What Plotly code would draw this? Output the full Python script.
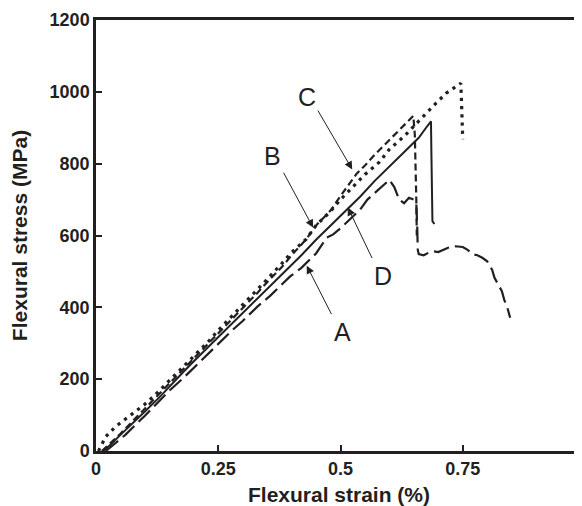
import plotly.graph_objects as go

# ---- data (strain in %, stress in MPa) ----
c_strain = [0.005, 0.02, 0.04, 0.063, 0.08, 0.098, 0.12, 0.15, 0.18, 0.2, 0.23, 0.25, 0.28, 0.3, 0.33, 0.35,
            0.38, 0.4, 0.43, 0.45, 0.48, 0.5, 0.53, 0.55, 0.58, 0.6, 0.63, 0.65, 0.675, 0.695, 0.716, 0.732,
            0.746, 0.747, 0.748, 0.749, 0.75]
c_stress = [0, 40, 68, 92, 110, 128, 155, 196, 238, 266, 305, 336, 378, 408, 448, 478,
            522, 553, 590, 628, 668, 700, 742, 770, 805, 840, 876, 905, 940, 968, 996, 1010,
            1024, 990, 940, 900, 868]

b_strain = [0.012, 0.03, 0.05, 0.07, 0.1, 0.13, 0.15, 0.18, 0.2, 0.23, 0.25, 0.28, 0.3, 0.33, 0.35, 0.38,
            0.4, 0.43, 0.45, 0.48, 0.5, 0.52, 0.533, 0.55, 0.57, 0.6, 0.62, 0.635, 0.649, 0.652, 0.654,
            0.655, 0.656]
b_stress = [0, 22, 48, 76, 118, 158, 188, 228, 258, 298, 328, 368, 398, 440, 470, 512,
            545, 590, 628, 670, 710, 748, 772, 795, 825, 866, 893, 914, 933, 880, 800,
            700, 600]

d_strain = [0.015, 0.03, 0.05, 0.07, 0.1, 0.13, 0.15, 0.18, 0.2, 0.23, 0.25, 0.28, 0.315, 0.34, 0.37, 0.4,
            0.42, 0.45, 0.48, 0.513, 0.54, 0.57, 0.6, 0.615, 0.64, 0.66, 0.675, 0.685, 0.686, 0.687,
            0.688, 0.692]
d_stress = [0, 18, 45, 72, 110, 150, 180, 222, 250, 290, 318, 358, 403, 436, 478, 518,
            545, 588, 628, 672, 708, 752, 792, 812, 845, 872, 900, 918, 820, 720,
            640, 632]

a_strain = [0.02, 0.04, 0.06, 0.08, 0.1, 0.13, 0.15, 0.18, 0.2, 0.23, 0.25, 0.28, 0.3, 0.33, 0.356, 0.376,
            0.397, 0.42, 0.431, 0.45, 0.472, 0.485, 0.5, 0.52, 0.54, 0.555, 0.577, 0.59, 0.6, 0.61,
            0.62, 0.63, 0.64, 0.65, 0.655, 0.657, 0.658, 0.66, 0.67, 0.68, 0.69, 0.7, 0.71, 0.72,
            0.735, 0.75, 0.76, 0.77, 0.78, 0.79, 0.8, 0.81, 0.815, 0.82, 0.83, 0.835, 0.84, 0.847]
a_stress = [0, 22, 45, 72, 98, 140, 168, 205, 232, 270, 298, 338, 362, 402, 432, 458,
            486, 510, 525, 550, 594, 603, 620, 645, 672, 700, 728, 745, 755, 735,
            700, 690, 705, 700, 690, 620, 560, 548, 545, 552, 556, 554, 560, 566,
            570, 568, 560, 548, 545, 538, 528, 505, 482, 470, 445, 420, 405, 371]

x_ticks = [0, 0.25, 0.5, 0.75]
x_ticktext = ["0", "0.25", "0.5", "0.75"]
y_ticks = [0, 200, 400, 600, 800, 1000, 1200]

labels = ["A", "B", "C", "D"]
label_pos = [(0.505, 332), (0.360, 820), (0.431, 985), (0.587, 486)]
arrow_tail = [(0.483, 377), (0.382, 779), (0.452, 952), (0.566, 533)]
arrow_tip = [(0.431, 516), (0.444, 622), (0.524, 784), (0.515, 678)]

INK = "#231f20"
FONT = "Liberation Sans, Arial, Helvetica, sans-serif"

fig = go.Figure()
fig.add_trace(go.Scatter(x=a_strain, y=a_stress, mode="lines",
                         line=dict(color=INK, width=2.2, dash="16px,6px")))
fig.add_trace(go.Scatter(x=b_strain, y=b_stress, mode="lines",
                         line=dict(color=INK, width=2.2, dash="7px,4px")))
fig.add_trace(go.Scatter(x=c_strain, y=c_stress, mode="lines",
                         line=dict(color=INK, width=3.2, dash="3.2px,5px")))
fig.add_trace(go.Scatter(x=d_strain, y=d_stress, mode="lines",
                         line=dict(color=INK, width=2.0)))

annotations = []
for lab, (lx, ly) in zip(labels, label_pos):
    annotations.append(dict(x=lx, y=ly, xref="x", yref="y", text=lab, showarrow=False,
                            font=dict(family=FONT, size=25, color=INK)))
for (tx, ty), (hx, hy) in zip(arrow_tail, arrow_tip):
    annotations.append(dict(x=hx, y=hy, ax=tx, ay=ty, xref="x", yref="y", axref="x", ayref="y",
                            text="", showarrow=True, arrowhead=2, arrowsize=1.6, arrowwidth=1,
                            arrowcolor=INK))
# partially visible "1" tick label at the right edge
annotations.append(dict(x=(584 - 96) / 486, y=0, xref="paper", yref="paper", text="1",
                        showarrow=False, xanchor="center", yanchor="top", yshift=-6,
                        font=dict(family=FONT, size=18, color=INK, weight="bold")))

# the page body has an 8px margin, so the figure is sized/offset to compensate
fig.update_layout(
    width=574, height=498,
    margin=dict(l=88, r=0, t=12, b=55),
    plot_bgcolor="white", paper_bgcolor="white",
    showlegend=False,
    font=dict(family=FONT, color=INK),
    annotations=annotations,
    xaxis=dict(range=[0, (582 - 96) / 489], tickvals=x_ticks, ticktext=x_ticktext,
               ticks="inside", ticklen=6, tickwidth=1.5, tickcolor=INK,
               showline=True, linewidth=2.5, linecolor=INK, mirror=True,
               showgrid=False, zeroline=False, automargin=False,
               tickfont=dict(family=FONT, size=18, color=INK, weight="bold"),
               title=dict(text="Flexural strain (%)", standoff=13,
                          font=dict(family=FONT, size=21, color=INK, weight="bold"))),
    yaxis=dict(range=[0, 1200], tickvals=y_ticks,
               ticks="inside", ticklen=6, tickwidth=1.5, tickcolor=INK,
               showline=True, linewidth=2.5, linecolor=INK,
               showgrid=False, zeroline=False, automargin=False,
               tickfont=dict(family=FONT, size=18, color=INK, weight="bold"),
               title=dict(text="Flexural stress (MPa)", standoff=24,
                          font=dict(family=FONT, size=21, color=INK, weight="bold"))),
)

fig.write_html("out.html")
